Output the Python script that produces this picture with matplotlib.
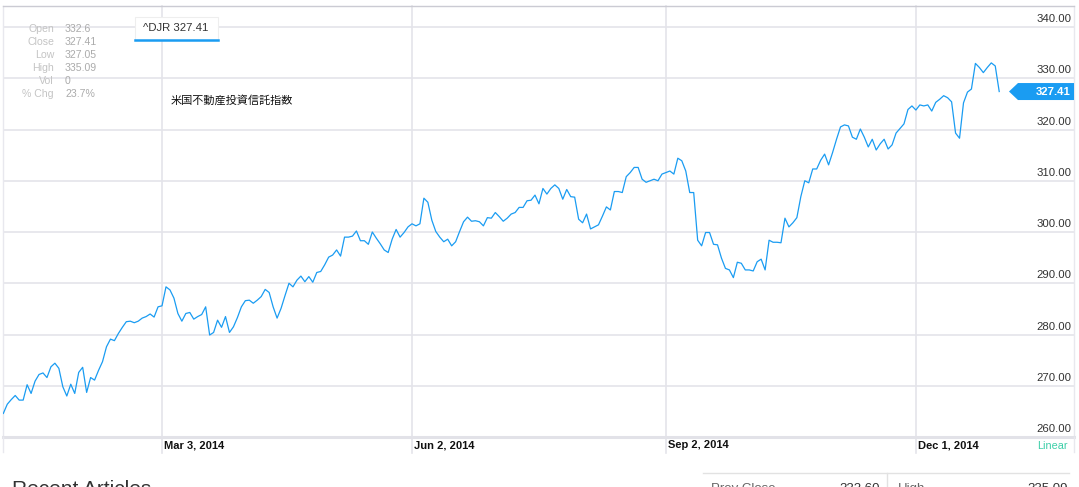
import numpy as np
import matplotlib
matplotlib.use("Agg")
import matplotlib.pyplot as plt
from matplotlib.patches import Polygon, Rectangle
from matplotlib.lines import Line2D
import matplotlib.transforms as mtransforms

plt.rcParams['font.family'] = ['Liberation Sans', 'Noto Sans CJK JP', 'DejaVu Sans']

# ^DJR daily closes for 2014, one value per trading session
closes = [
    264.6, 266.4, 267.3, 268.1, 267.2, 267.2, 270.2, 268.5, 270.9, 272.2,
    272.5, 271.6, 273.7, 274.4, 273.4, 269.8, 268.0, 270.3, 268.5, 272.6,
    273.6, 268.7, 271.6, 271.1, 273.0, 274.7, 277.6, 279.1, 278.8, 280.2,
    281.4, 282.5, 282.6, 282.3, 282.6, 283.2, 283.5, 284.0, 283.4, 285.4,
    285.6, 289.3, 288.7, 287.1, 284.1, 282.6, 284.1, 284.3, 283.0, 283.5,
    283.9, 285.4, 279.9, 280.4, 282.8, 281.4, 283.5, 280.4, 281.5, 283.3,
    285.4, 286.6, 286.7, 286.1, 286.7, 287.4, 288.8, 288.2, 285.4, 283.2,
    285.1, 287.6, 290.0, 289.3, 290.6, 291.4, 290.3, 291.3, 290.2, 292.1,
    292.3, 293.6, 295.1, 295.5, 296.5, 295.3, 299.0, 299.0, 299.2, 300.2,
    298.3, 298.3, 297.6, 300.0, 298.8, 297.7, 296.5, 296.0, 298.6, 300.5,
    299.0, 299.9, 301.0, 301.6, 301.2, 301.6, 306.6, 305.8, 302.3, 300.1,
    299.0, 298.1, 298.6, 297.3, 298.1, 300.1, 302.0, 302.9, 302.1, 302.2,
    302.0, 301.2, 302.8, 302.7, 303.8, 303.0, 302.1, 302.7, 303.5, 303.8,
    304.8, 304.8, 306.1, 306.2, 307.2, 305.5, 308.5, 307.4, 308.5, 309.2,
    308.5, 306.4, 308.3, 306.9, 306.8, 302.5, 301.8, 303.5, 300.6, 301.0,
    301.4, 303.1, 304.9, 304.3, 307.9, 307.9, 307.7, 310.8, 311.6, 312.6,
    312.6, 310.3, 309.7, 310.0, 310.3, 310.0, 311.3, 311.6, 311.9, 311.3,
    314.4, 313.9, 311.9, 307.7, 307.7, 298.4, 297.3, 299.9, 299.9, 297.6,
    297.5, 294.9, 292.9, 292.6, 291.1, 294.1, 293.9, 292.6, 292.6, 292.4,
    294.2, 294.7, 292.6, 298.4, 298.0, 298.0, 297.9, 302.7, 301.0, 301.8,
    302.8, 306.9, 310.0, 309.6, 312.3, 312.3, 314.0, 315.2, 313.1, 315.5,
    318.1, 320.5, 320.9, 320.7, 318.5, 318.1, 320.1, 318.5, 316.6, 318.1,
    316.0, 317.2, 318.1, 316.2, 317.0, 319.3, 320.2, 321.1, 323.9, 324.6,
    323.8, 324.8, 324.6, 324.8, 323.6, 325.3, 325.9, 326.6, 326.2, 325.4,
    319.3, 318.3, 325.2, 327.3, 327.9, 332.9, 332.1, 331.1, 332.1, 333.0,
    332.4, 327.41,
]

# session index of the labelled dates
tick_sessions = [40, 103, 167, 230]
tick_labels = ["Mar 3, 2014", "Jun 2, 2014", "Sep 2, 2014", "Dec 1, 2014"]
price_ticks = [260, 270, 280, 290, 300, 310, 320, 330, 340]

# quote panel
info_names = ["Open", "Close", "Low", "High", "Vol", "% Chg"]
info_values = ["332.6", "327.41", "327.05", "335.09", "0", "23.7%"]
symbol = "^DJR"
last_close = closes[-1]
chart_title = "米国不動産投資信託指数"

W, H = 1079, 487
BLUE = '#1a9cf2'
GRID = '#e4e4ea'


def fx(px):
    return px / W


def fy(py):
    return 1 - py / H


fig = plt.figure(figsize=(W / 100, H / 100), dpi=100)
ax = fig.add_axes([fx(3), fy(437), fx(1074) - fx(3), fy(6) - fy(437)])

x = np.arange(len(closes))
ax.plot(x, closes, color=BLUE, lw=0.9, zorder=3)

ax.set_xlim(-0.08, 269.85)
ax.set_ylim(260, 344.1)
ax.set_xticks([])
ax.set_yticks([])

for s in ['left', 'right']:
    ax.spines[s].set_color('#e8e8ee')
    ax.spines[s].set_linewidth(1.0)
ax.spines['top'].set_color('#cbcbd3')
ax.spines['top'].set_linewidth(1.0)
ax.spines['bottom'].set_color('#e2e2e8')
ax.spines['bottom'].set_linewidth(2.2)

# horizontal grid + price labels sitting on top of each line
for v in price_ticks[1:]:
    ax.axhline(v, color=GRID, lw=1.2, zorder=1)
ytrans = mtransforms.blended_transform_factory(ax.transAxes, ax.transData)
for v in price_ticks:
    ax.annotate(f"{v:.2f}", xy=(0.998, v), xycoords=ytrans, xytext=(0, 2),
                textcoords='offset points', ha='right', va='bottom',
                fontsize=8.2, color='#333333')

# vertical grid running down through the date band
xtrans = mtransforms.blended_transform_factory(ax.transData, ax.transAxes)
date_base = (437 - 448) / 431
for s, lab in zip(tick_sessions, tick_labels):
    ax.axvline(s, ymin=-0.036, ymax=1, color=GRID, lw=1.2, zorder=1, clip_on=False)
    ax.text(s + 0.6, date_base, lab, transform=xtrans, ha='left', va='baseline',
            fontsize=8.0, color='#111111', fontweight='bold')
for xpx in [3, 1074]:
    fig.add_artist(Line2D([fx(xpx), fx(xpx)], [fy(437), fy(452)], color='#e8e8ee', lw=1.0))

fig.text(fx(1068), fy(449), "Linear", ha='right', va='baseline', fontsize=7.8, color='#3ccfa8')

# last price tag
half = 8.5 / 5.125
tag = Polygon([(0.9393, last_close), (0.9477, last_close + half), (1.0, last_close + half),
               (1.0, last_close - half), (0.9477, last_close - half)],
              closed=True, transform=ytrans, facecolor=BLUE, edgecolor='none',
              clip_on=False, zorder=4)
ax.add_patch(tag)
ax.text(0.9972, last_close, f"{last_close:.2f}", transform=ytrans, ha='right', va='center',
        fontsize=8.2, color='white', fontweight='bold', zorder=5)

# quote panel top left
rows = [29, 42, 55, 68, 81, 94]
for name, val, r in zip(info_names, info_values, rows):
    fig.text(fx(54), fy(r), name, ha='right', va='center', fontsize=7.6, color='#c4c4c4')
    fig.text(fx(65), fy(r), val, ha='left', va='center', fontsize=7.6, color='#ababab')

# symbol box
fig.add_artist(Rectangle((fx(135), fy(40)), fx(218) - fx(135), fy(17) - fy(40),
                         facecolor='white', edgecolor='#eeeeee', lw=0.8, zorder=5))
fig.add_artist(Line2D([fx(135), fx(218)], [fy(39.5), fy(39.5)], color=BLUE, lw=1.8, zorder=6))
fig.text(fx(176), fy(28), f"{symbol} {last_close:.2f}", ha='center', va='center',
         fontsize=8.2, color='#333333', zorder=7)

fig.text(fx(171), fy(100), chart_title, ha='left', va='center', fontsize=8.0,
         color='#111111', family=['Noto Sans CJK JP', 'DejaVu Sans'])

# bits of the page below the chart (cut off by the bottom edge, as on the page)
fig.text(fx(12), fy(480), "Recent Articles", ha='left', va='top', fontsize=15, color='#333333')
fig.add_artist(Line2D([fx(703), fx(1069)], [fy(473), fy(473)], color='#e2e2e2', lw=1.0))
fig.add_artist(Line2D([fx(887), fx(887)], [fy(473), fy(490)], color='#e2e2e2', lw=1.0))
fig.text(fx(711), fy(483), "Prev Close", ha='left', va='top', fontsize=9.5, color='#666666')
fig.text(fx(880), fy(483), "332.60", ha='right', va='top', fontsize=9.5, color='#333333')
fig.text(fx(898), fy(483), "High", ha='left', va='top', fontsize=9.5, color='#666666')
fig.text(fx(1068), fy(483), "335.09", ha='right', va='top', fontsize=9.5, color='#333333')

fig.savefig("out.png", dpi=100, facecolor='white')
